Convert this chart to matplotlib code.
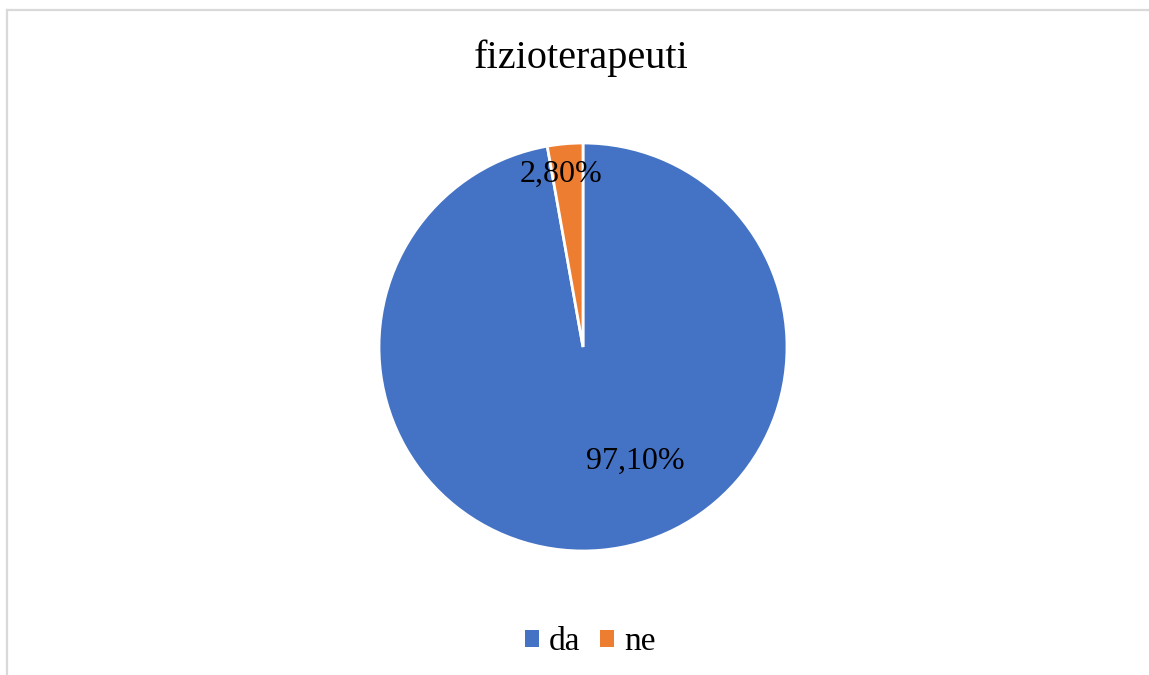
import matplotlib.pyplot as plt
from matplotlib.lines import Line2D
from matplotlib.patches import Patch

labels = ["da", "ne"]
values = [97.10, 2.80]
colors = ["#4472C4", "#ED7D31"]
title = "fizioterapeuti"

plt.rcParams["font.family"] = ["Liberation Serif", "DejaVu Serif"]

W, H = 1149, 675
fig = plt.figure(figsize=(W / 100, H / 100), dpi=100)

# chart frame (only the top and left edges fall inside the image)
fig.add_artist(Line2D([7 / W, 7 / W], [0, 1 - 10 / H], transform=fig.transFigure,
                      color="#D9D9D9", lw=1.6))
fig.add_artist(Line2D([7 / W, 1], [1 - 10 / H, 1 - 10 / H], transform=fig.transFigure,
                      color="#D9D9D9", lw=1.6))

cx, cy, r = 583, 347, 204
ax = fig.add_axes([(cx - r) / W, (H - cy - r) / H, 2 * r / W, 2 * r / H])
ax.pie(values, colors=colors, startangle=90, counterclock=False, radius=1,
       wedgeprops=dict(edgecolor="white", linewidth=2))
ax.set_xlim(-1, 1)
ax.set_ylim(-1, 1)
ax.axis("off")

def fmt(v):
    return f"{v:.2f}%".replace(".", ",")

ax.text(0.255, -0.56, fmt(values[0]), ha="center", va="center", fontsize=23)
ax.text(-0.11, 0.845, fmt(values[1]), ha="center", va="center", fontsize=23)

fig.text(581 / W, 1 - 58 / H, title, ha="center", va="center", fontsize=29)

handles = [Patch(facecolor=c, edgecolor="none") for c in colors]
fig.legend(handles, labels, loc="center", bbox_to_anchor=(590 / W, 1 - 642 / H),
           ncol=2, frameon=False, fontsize=24, handlelength=0.42, handleheight=0.42,
           handletextpad=0.3, columnspacing=0.6)

fig.savefig("out.png", dpi=100, facecolor="white")
